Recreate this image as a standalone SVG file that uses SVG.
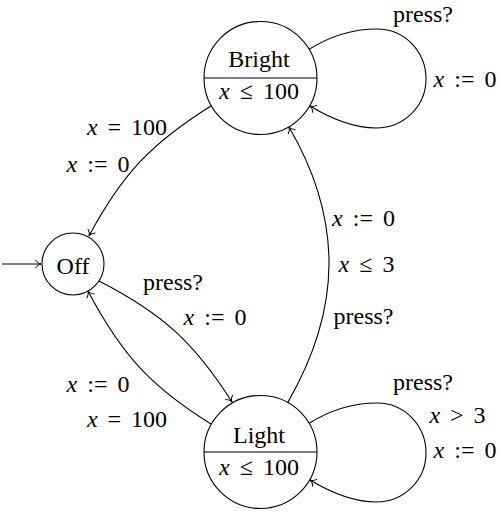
<svg xmlns="http://www.w3.org/2000/svg" width="499" height="516" viewBox="0 0 499 516">
<defs>
<marker id="arr" markerUnits="userSpaceOnUse" markerWidth="14" markerHeight="14" viewBox="-9 -7 14 14" refX="0" refY="0" orient="auto">
<path d="M -5.5 -4 C -4 -1.6, -1.6 -0.3, 0 0 C -1.6 0.3, -4 1.6, -5.5 4" fill="none" stroke="#000" stroke-width="1" stroke-linecap="round"/>
</marker>
<style>
.st{fill:#fff;stroke:#000;stroke-width:1.1}
.dv{stroke:#000;stroke-width:1.1}
.ed{fill:none;stroke:#000;stroke-width:1.1;marker-end:url(#arr)}
text{font-size:24px;fill:#000;text-anchor:middle}
.m{font-style:italic}
</style>
</defs>
<g id="connectors" font-family="'Liberation Serif', 'DejaVu Serif', serif">
<g id="e-init"><path class="ed" d="M 2 264 L 41 264"/></g>
<g id="e-bright-off">
<path class="ed" d="M 211 106 C 151.6 142.9, 122 174.4, 89 236"/>
<text x="127" y="135"><tspan class="m">x</tspan><tspan dx="10">=</tspan><tspan dx="10">100</tspan></text>
<text x="98" y="172"><tspan class="m">x</tspan><tspan dx="10">:=</tspan><tspan dx="10">0</tspan></text>
</g>
<g id="e-off-light">
<path class="ed" d="M 99 281 C 162 313.3, 194 342, 232 402"/>
<text x="173" y="290">press?</text>
<text x="215" y="325"><tspan class="m">x</tspan><tspan dx="10">:=</tspan><tspan dx="10">0</tspan></text>
</g>
<g id="e-light-off">
<path class="ed" d="M 211 424 C 151.6 387.1, 122 355.6, 88 291"/>
<text x="98" y="392"><tspan class="m">x</tspan><tspan dx="10">:=</tspan><tspan dx="10">0</tspan></text>
<text x="127" y="427"><tspan class="m">x</tspan><tspan dx="10">=</tspan><tspan dx="10">100</tspan></text>
</g>
<g id="e-light-bright">
<path class="ed" d="M 288 402 C 341.5 309, 343.5 220.7, 289 127"/>
<text x="363.5" y="226"><tspan class="m">x</tspan><tspan dx="10">:=</tspan><tspan dx="10">0</tspan></text>
<text x="366.5" y="272"><tspan class="m">x</tspan><tspan dx="10">≤</tspan><tspan dx="10">3</tspan></text>
<text x="363.5" y="324">press?</text>
</g>
<g id="e-bright-loop">
<path class="ed" d="M 308 50 C 330 36, 352 29, 377 29 C 405 29, 426 52, 426 79 C 426 106, 404 128, 376 128 C 352 128, 330 118, 310 106"/>
<text x="423" y="22">press?</text>
<text x="465" y="87"><tspan class="m">x</tspan><tspan dx="10">:=</tspan><tspan dx="10">0</tspan></text>
</g>
<g id="e-light-loop">
<path class="ed" d="M 308 424 C 330 410, 352 403, 377 403 C 405 403, 426 426, 426 453 C 426 480, 404 502, 376 502 C 352 502, 330 492, 310 480"/>
<text x="423" y="390">press?</text>
<text x="457.5" y="423"><tspan class="m">x</tspan><tspan dx="10">&gt;</tspan><tspan dx="10">3</tspan></text>
<text x="465" y="458"><tspan class="m">x</tspan><tspan dx="10">:=</tspan><tspan dx="10">0</tspan></text>
</g>
</g>
<g id="nodes" font-family="'Liberation Serif', 'DejaVu Serif', serif">
<g id="node-off">
<circle class="st" cx="73" cy="264" r="31"/>
<text x="73" y="274">Off</text>
</g>
<g id="node-bright">
<circle class="st" cx="260.5" cy="78" r="56.5"/>
<line class="dv" x1="204" y1="78" x2="317" y2="78"/>
<text x="259" y="67">Bright</text>
<text x="259" y="99"><tspan class="m">x</tspan><tspan dx="10">≤</tspan><tspan dx="10">100</tspan></text>
</g>
<g id="node-light">
<circle class="st" cx="260.5" cy="452" r="56.5"/>
<line class="dv" x1="204" y1="452" x2="317" y2="452"/>
<text x="259" y="443">Light</text>
<text x="259" y="475"><tspan class="m">x</tspan><tspan dx="10">≤</tspan><tspan dx="10">100</tspan></text>
</g>
</g>
</svg>
